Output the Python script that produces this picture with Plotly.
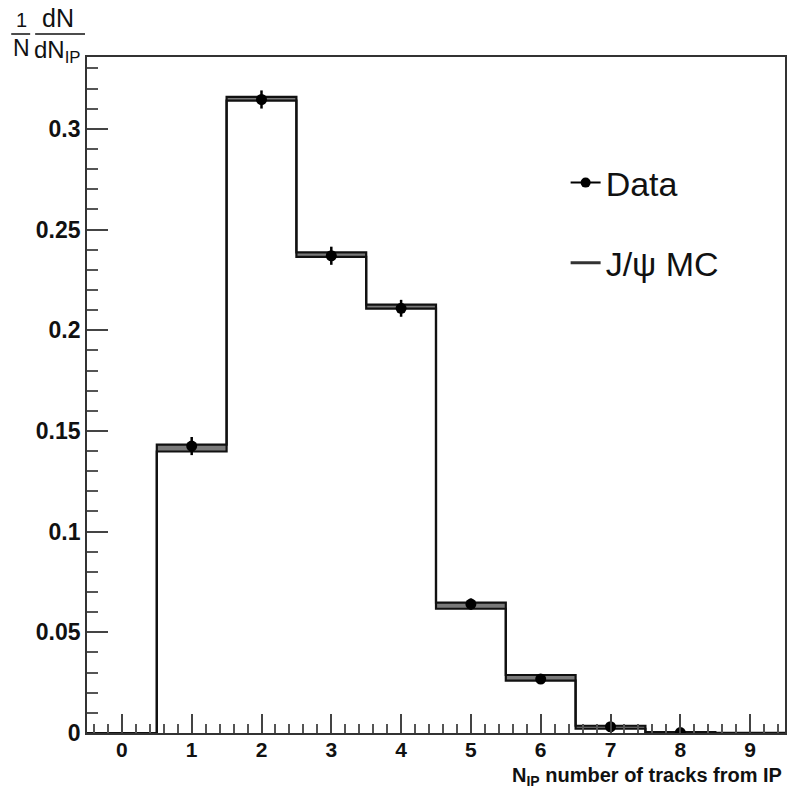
import plotly.graph_objects as go

# Bin layout: integer track multiplicities 0..9
bin_edges = [-0.5, 0.5, 1.5, 2.5, 3.5, 4.5, 5.5, 6.5, 7.5, 8.5, 9.5]

# J/psi MC normalised distribution, upper / lower edge of its uncertainty band (bins 0..9)
mc_hi = [0.0, 0.1432, 0.3159, 0.2387, 0.2127, 0.0647, 0.0288, 0.0036, 0.0005, 0.0001]
mc_lo = [0.0, 0.1398, 0.3140, 0.2364, 0.2107, 0.0617, 0.0260, 0.0021, 0.0003, 0.0000]

# Data points (bins 1..8)
data_x = [1, 2, 3, 4, 5, 6, 7, 8]
data_y = [0.1425, 0.3146, 0.2370, 0.2109, 0.0640, 0.0268, 0.0031, 0.0002]
data_err = [0.0045, 0.0045, 0.0045, 0.0042, 0.0028, 0.0018, 0.0007, 0.0002]

x_tick_vals = [0, 1, 2, 3, 4, 5, 6, 7, 8, 9]
y_tick_vals = [0, 0.05, 0.1, 0.15, 0.2, 0.25, 0.3]
y_tick_text = ["0", "0.05", "0.1", "0.15", "0.2", "0.25", "0.3"]

W, H = 788, 789
ML, MR, MT, MB = 87, 1, 57, 56
PW, PH = W - ML - MR, H - MT - MB


def px(x):
    return (x - ML) / PW


def py(y):
    return (H - MB - y) / PH


FONT = "Liberation Sans, Arial, Helvetica, sans-serif"
INK = "#111111"

fig = go.Figure()

step_x = bin_edges
hi_y = mc_hi + [mc_hi[-1]]
lo_y = mc_lo + [mc_lo[-1]]

# MC band: upper edge, then lower edge filled up to it
fig.add_trace(go.Scatter(
    x=step_x, y=hi_y, mode="lines", line=dict(shape="hv", color=INK, width=2.2),
    showlegend=False, hoverinfo="skip"))
fig.add_trace(go.Scatter(
    x=step_x, y=lo_y, mode="lines", line=dict(shape="hv", color=INK, width=2.2),
    fill="tonexty", fillcolor="#7a7a7a", showlegend=False, hoverinfo="skip"))

# Data with statistical errors
fig.add_trace(go.Scatter(
    x=data_x, y=data_y, mode="markers",
    marker=dict(symbol="circle", size=11, color="black"),
    error_y=dict(type="data", array=data_err, visible=True, thickness=2.5, width=0, color="black"),
    showlegend=False))

# Legend entries
fig.add_trace(go.Scatter(
    x=[None], y=[None], mode="lines+markers", name="Data", legendgroup="a",
    line=dict(color="black", width=2), marker=dict(size=10, color="black")))
fig.add_trace(go.Scatter(
    x=[None], y=[None], mode="lines", name="J/\u03c8 MC", legendgroup="b",
    line=dict(color="#333333", width=3)))

axis_common = dict(
    showline=True, linecolor="#333333", linewidth=1.8, mirror=True,
    showgrid=False, zeroline=False,
    ticks="inside", tickcolor="#444444", tickwidth=1.5,
)

fig.update_xaxes(
    range=[-0.5, 9.5], tickvals=x_tick_vals, ticklen=19, ticklabelstandoff=-3,
    tickfont=dict(family=FONT, size=21, color=INK, weight="bold"),
    minor=dict(dtick=0.2, tick0=0, ticks="inside", ticklen=9, tickcolor="#555555", tickwidth=1.5),
    **axis_common)
fig.update_yaxes(
    range=[0, 0.3357], tickvals=y_tick_vals, ticktext=y_tick_text, ticklen=21,
    tickfont=dict(family=FONT, size=23, color=INK, weight="bold"),
    minor=dict(dtick=0.01, tick0=0, ticks="inside", ticklen=11, tickcolor="#555555", tickwidth=1.5),
    **axis_common)

annotations = [
    # x-axis title
    dict(x=px(785), y=py(790), xref="paper", yref="paper", xanchor="right", yanchor="bottom",
         text="N<sub>IP</sub> number of tracks from IP", showarrow=False, borderpad=0,
         font=dict(family=FONT, size=20, color=INK, weight="bold")),
    # y-axis title: 1/N dN/dN_IP
    dict(x=px(21), y=py(20), xref="paper", yref="paper", xanchor="center", yanchor="middle",
         text="1", showarrow=False, borderpad=0, font=dict(family=FONT, size=20, color=INK)),
    dict(x=px(21), y=py(48), xref="paper", yref="paper", xanchor="center", yanchor="middle",
         text="N", showarrow=False, borderpad=0, font=dict(family=FONT, size=23, color=INK)),
    dict(x=px(58), y=py(18), xref="paper", yref="paper", xanchor="center", yanchor="middle",
         text="dN", showarrow=False, borderpad=0, font=dict(family=FONT, size=25, color=INK)),
    dict(x=px(33), y=py(51), xref="paper", yref="paper", xanchor="left", yanchor="middle",
         text="dN<sub>IP</sub>", showarrow=False, borderpad=0, font=dict(family=FONT, size=24, color=INK)),
]

shapes = [
    dict(type="line", xref="paper", yref="paper", x0=px(11), x1=px(30), y0=py(34), y1=py(34),
         line=dict(color=INK, width=1.5)),
    dict(type="line", xref="paper", yref="paper", x0=px(35), x1=px(85), y0=py(34), y1=py(34),
         line=dict(color=INK, width=1.5)),
]

fig.update_layout(
    width=W, height=H,
    margin=dict(l=ML, r=MR, t=MT, b=MB),
    paper_bgcolor="white", plot_bgcolor="white",
    annotations=annotations, shapes=shapes,
    legend=dict(
        x=px(567), y=py(154), xref="paper", yref="paper", xanchor="left", yanchor="top",
        bgcolor="rgba(0,0,0,0)", traceorder="grouped", tracegroupgap=33,
        font=dict(family=FONT, size=34, color=INK), itemwidth=30,
    ),
    showlegend=True,
)

fig.write_html("out.html")
